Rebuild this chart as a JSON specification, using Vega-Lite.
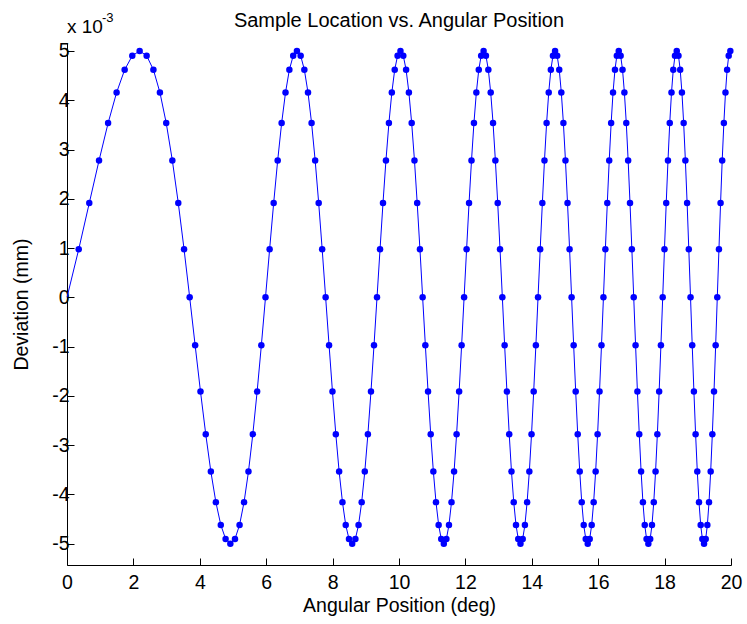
{
  "$schema": "https://vega.github.io/schema/vega-lite/v6.json",
  "width": 664,
  "height": 522,
  "autosize": {"type": "none"},
  "padding": {"left": 67, "top": 43, "right": 16, "bottom": 59},
  "background": "white",
  "config": {
    "view": {"stroke": null},
    "font": "Liberation Sans",
    "axis": {
      "grid": false,
      "domainColor": "black",
      "domainWidth": 1,
      "tickColor": "black",
      "tickWidth": 1,
      "tickSize": -7,
      "labelColor": "black",
      "titleColor": "black",
      "labelFont": "Liberation Sans",
      "titleFont": "Liberation Sans",
      "labelFontSize": 19.5,
      "titleFontSize": 19.5,
      "titleFontWeight": "normal"
    }
  },
  "title": {
    "text": "Sample Location vs. Angular Position",
    "font": "Liberation Sans",
    "fontSize": 20,
    "fontWeight": "normal",
    "color": "black",
    "frame": "group",
    "anchor": "middle",
    "baseline": "alphabetic",
    "offset": -35
  },
  "data": {
    "values": [
      {"x": 0, "y": 0},
      {"x": 0.353, "y": 0.000975},
      {"x": 0.671, "y": 0.001913},
      {"x": 0.965, "y": 0.002778},
      {"x": 1.238, "y": 0.003536},
      {"x": 1.494, "y": 0.004157},
      {"x": 1.737, "y": 0.004619},
      {"x": 1.967, "y": 0.004904},
      {"x": 2.188, "y": 0.005},
      {"x": 2.399, "y": 0.004904},
      {"x": 2.603, "y": 0.004619},
      {"x": 2.799, "y": 0.004157},
      {"x": 2.989, "y": 0.003536},
      {"x": 3.173, "y": 0.002778},
      {"x": 3.352, "y": 0.001913},
      {"x": 3.526, "y": 0.000975},
      {"x": 3.695, "y": 0},
      {"x": 3.860, "y": -0.000975},
      {"x": 4.021, "y": -0.001913},
      {"x": 4.179, "y": -0.002778},
      {"x": 4.333, "y": -0.003536},
      {"x": 4.484, "y": -0.004157},
      {"x": 4.632, "y": -0.004619},
      {"x": 4.777, "y": -0.004904},
      {"x": 4.920, "y": -0.005},
      {"x": 5.060, "y": -0.004904},
      {"x": 5.198, "y": -0.004619},
      {"x": 5.333, "y": -0.004157},
      {"x": 5.466, "y": -0.003536},
      {"x": 5.597, "y": -0.002778},
      {"x": 5.727, "y": -0.001913},
      {"x": 5.854, "y": -0.000975},
      {"x": 5.979, "y": 0},
      {"x": 6.103, "y": 0.000975},
      {"x": 6.225, "y": 0.001913},
      {"x": 6.346, "y": 0.002778},
      {"x": 6.465, "y": 0.003536},
      {"x": 6.582, "y": 0.004157},
      {"x": 6.698, "y": 0.004619},
      {"x": 6.813, "y": 0.004904},
      {"x": 6.926, "y": 0.005},
      {"x": 7.038, "y": 0.004904},
      {"x": 7.149, "y": 0.004619},
      {"x": 7.259, "y": 0.004157},
      {"x": 7.367, "y": 0.003536},
      {"x": 7.475, "y": 0.002778},
      {"x": 7.581, "y": 0.001913},
      {"x": 7.686, "y": 0.000975},
      {"x": 7.790, "y": 0},
      {"x": 7.894, "y": -0.000975},
      {"x": 7.996, "y": -0.001913},
      {"x": 8.097, "y": -0.002778},
      {"x": 8.197, "y": -0.003536},
      {"x": 8.297, "y": -0.004157},
      {"x": 8.395, "y": -0.004619},
      {"x": 8.493, "y": -0.004904},
      {"x": 8.590, "y": -0.005},
      {"x": 8.686, "y": -0.004904},
      {"x": 8.782, "y": -0.004619},
      {"x": 8.876, "y": -0.004157},
      {"x": 8.970, "y": -0.003536},
      {"x": 9.063, "y": -0.002778},
      {"x": 9.156, "y": -0.001913},
      {"x": 9.247, "y": -0.000975},
      {"x": 9.338, "y": 0},
      {"x": 9.429, "y": 0.000975},
      {"x": 9.518, "y": 0.001913},
      {"x": 9.607, "y": 0.002778},
      {"x": 9.696, "y": 0.003536},
      {"x": 9.784, "y": 0.004157},
      {"x": 9.871, "y": 0.004619},
      {"x": 9.957, "y": 0.004904},
      {"x": 10.044, "y": 0.005},
      {"x": 10.129, "y": 0.004904},
      {"x": 10.214, "y": 0.004619},
      {"x": 10.298, "y": 0.004157},
      {"x": 10.382, "y": 0.003536},
      {"x": 10.466, "y": 0.002778},
      {"x": 10.548, "y": 0.001913},
      {"x": 10.631, "y": 0.000975},
      {"x": 10.712, "y": 0},
      {"x": 10.794, "y": -0.000975},
      {"x": 10.875, "y": -0.001913},
      {"x": 10.955, "y": -0.002778},
      {"x": 11.035, "y": -0.003536},
      {"x": 11.114, "y": -0.004157},
      {"x": 11.194, "y": -0.004619},
      {"x": 11.272, "y": -0.004904},
      {"x": 11.350, "y": -0.005},
      {"x": 11.428, "y": -0.004904},
      {"x": 11.505, "y": -0.004619},
      {"x": 11.582, "y": -0.004157},
      {"x": 11.659, "y": -0.003536},
      {"x": 11.735, "y": -0.002778},
      {"x": 11.811, "y": -0.001913},
      {"x": 11.886, "y": -0.000975},
      {"x": 11.961, "y": 0},
      {"x": 12.036, "y": 0.000975},
      {"x": 12.110, "y": 0.001913},
      {"x": 12.184, "y": 0.002778},
      {"x": 12.257, "y": 0.003536},
      {"x": 12.330, "y": 0.004157},
      {"x": 12.403, "y": 0.004619},
      {"x": 12.475, "y": 0.004904},
      {"x": 12.548, "y": 0.005},
      {"x": 12.619, "y": 0.004904},
      {"x": 12.691, "y": 0.004619},
      {"x": 12.762, "y": 0.004157},
      {"x": 12.833, "y": 0.003536},
      {"x": 12.903, "y": 0.002778},
      {"x": 12.973, "y": 0.001913},
      {"x": 13.043, "y": 0.000975},
      {"x": 13.113, "y": 0},
      {"x": 13.182, "y": -0.000975},
      {"x": 13.251, "y": -0.001913},
      {"x": 13.320, "y": -0.002778},
      {"x": 13.388, "y": -0.003536},
      {"x": 13.456, "y": -0.004157},
      {"x": 13.524, "y": -0.004619},
      {"x": 13.592, "y": -0.004904},
      {"x": 13.659, "y": -0.005},
      {"x": 13.726, "y": -0.004904},
      {"x": 13.793, "y": -0.004619},
      {"x": 13.859, "y": -0.004157},
      {"x": 13.926, "y": -0.003536},
      {"x": 13.992, "y": -0.002778},
      {"x": 14.057, "y": -0.001913},
      {"x": 14.123, "y": -0.000975},
      {"x": 14.188, "y": 0},
      {"x": 14.253, "y": 0.000975},
      {"x": 14.318, "y": 0.001913},
      {"x": 14.382, "y": 0.002778},
      {"x": 14.446, "y": 0.003536},
      {"x": 14.510, "y": 0.004157},
      {"x": 14.574, "y": 0.004619},
      {"x": 14.638, "y": 0.004904},
      {"x": 14.701, "y": 0.005},
      {"x": 14.764, "y": 0.004904},
      {"x": 14.827, "y": 0.004619},
      {"x": 14.889, "y": 0.004157},
      {"x": 14.952, "y": 0.003536},
      {"x": 15.014, "y": 0.002778},
      {"x": 15.076, "y": 0.001913},
      {"x": 15.138, "y": 0.000975},
      {"x": 15.199, "y": 0},
      {"x": 15.261, "y": -0.000975},
      {"x": 15.322, "y": -0.001913},
      {"x": 15.383, "y": -0.002778},
      {"x": 15.444, "y": -0.003536},
      {"x": 15.504, "y": -0.004157},
      {"x": 15.564, "y": -0.004619},
      {"x": 15.625, "y": -0.004904},
      {"x": 15.685, "y": -0.005},
      {"x": 15.744, "y": -0.004904},
      {"x": 15.804, "y": -0.004619},
      {"x": 15.863, "y": -0.004157},
      {"x": 15.923, "y": -0.003536},
      {"x": 15.982, "y": -0.002778},
      {"x": 16.040, "y": -0.001913},
      {"x": 16.099, "y": -0.000975},
      {"x": 16.158, "y": 0},
      {"x": 16.216, "y": 0.000975},
      {"x": 16.274, "y": 0.001913},
      {"x": 16.332, "y": 0.002778},
      {"x": 16.390, "y": 0.003536},
      {"x": 16.447, "y": 0.004157},
      {"x": 16.505, "y": 0.004619},
      {"x": 16.562, "y": 0.004904},
      {"x": 16.619, "y": 0.005},
      {"x": 16.676, "y": 0.004904},
      {"x": 16.733, "y": 0.004619},
      {"x": 16.789, "y": 0.004157},
      {"x": 16.846, "y": 0.003536},
      {"x": 16.902, "y": 0.002778},
      {"x": 16.958, "y": 0.001913},
      {"x": 17.014, "y": 0.000975},
      {"x": 17.070, "y": 0},
      {"x": 17.126, "y": -0.000975},
      {"x": 17.181, "y": -0.001913},
      {"x": 17.237, "y": -0.002778},
      {"x": 17.292, "y": -0.003536},
      {"x": 17.347, "y": -0.004157},
      {"x": 17.402, "y": -0.004619},
      {"x": 17.457, "y": -0.004904},
      {"x": 17.511, "y": -0.005},
      {"x": 17.566, "y": -0.004904},
      {"x": 17.620, "y": -0.004619},
      {"x": 17.674, "y": -0.004157},
      {"x": 17.728, "y": -0.003536},
      {"x": 17.782, "y": -0.002778},
      {"x": 17.836, "y": -0.001913},
      {"x": 17.889, "y": -0.000975},
      {"x": 17.943, "y": 0},
      {"x": 17.996, "y": 0.000975},
      {"x": 18.049, "y": 0.001913},
      {"x": 18.102, "y": 0.002778},
      {"x": 18.155, "y": 0.003536},
      {"x": 18.208, "y": 0.004157},
      {"x": 18.261, "y": 0.004619},
      {"x": 18.313, "y": 0.004904},
      {"x": 18.366, "y": 0.005},
      {"x": 18.418, "y": 0.004904},
      {"x": 18.470, "y": 0.004619},
      {"x": 18.522, "y": 0.004157},
      {"x": 18.574, "y": 0.003536},
      {"x": 18.626, "y": 0.002778},
      {"x": 18.678, "y": 0.001913},
      {"x": 18.729, "y": 0.000975},
      {"x": 18.781, "y": 0},
      {"x": 18.832, "y": -0.000975},
      {"x": 18.883, "y": -0.001913},
      {"x": 18.934, "y": -0.002778},
      {"x": 18.985, "y": -0.003536},
      {"x": 19.036, "y": -0.004157},
      {"x": 19.087, "y": -0.004619},
      {"x": 19.137, "y": -0.004904},
      {"x": 19.188, "y": -0.005},
      {"x": 19.238, "y": -0.004904},
      {"x": 19.288, "y": -0.004619},
      {"x": 19.338, "y": -0.004157},
      {"x": 19.388, "y": -0.003536},
      {"x": 19.438, "y": -0.002778},
      {"x": 19.488, "y": -0.001913},
      {"x": 19.538, "y": -0.000975},
      {"x": 19.587, "y": 0},
      {"x": 19.637, "y": 0.000975},
      {"x": 19.686, "y": 0.001913},
      {"x": 19.735, "y": 0.002778},
      {"x": 19.785, "y": 0.003536},
      {"x": 19.834, "y": 0.004157},
      {"x": 19.883, "y": 0.004619},
      {"x": 19.931, "y": 0.004904},
      {"x": 19.980, "y": 0.005}
    ]
  },
  "layer": [
    {
      "mark": {"type": "line", "color": "#0000ff", "strokeWidth": 1},
      "encoding": {
        "x": {
          "field": "x",
          "type": "quantitative",
          "scale": {"domain": [0, 20], "nice": false, "zero": false},
          "axis": {
            "title": "Angular Position (deg)",
            "values": [0, 2, 4, 6, 8, 10, 12, 14, 16, 18, 20],
            "format": "d",
            "labelFlush": false,
            "labelPadding": 15,
            "titlePadding": 5
          }
        },
        "y": {
          "field": "y",
          "type": "quantitative",
          "scale": {"domain": [-0.005433, 0.005162], "nice": false, "zero": false},
          "axis": {
            "title": "Deviation (mm)",
            "values": [-0.005, -0.004, -0.003, -0.002, -0.001, 0, 0.001, 0.002, 0.003, 0.004, 0.005],
            "labelExpr": "'' + round(datum.value * 1000)",
            "labelPadding": 5,
            "titlePadding": 20
          }
        }
      }
    },
    {
      "transform": [{"filter": "datum.x > 0"}],
      "mark": {"type": "circle", "color": "#0000ff", "size": 42, "opacity": 1},
      "encoding": {
        "x": {"field": "x", "type": "quantitative"},
        "y": {"field": "y", "type": "quantitative"}
      }
    },
    {
      "data": {"values": [{"label": "x 10"}]},
      "mark": {"type": "text", "align": "left", "baseline": "alphabetic", "fontSize": 19, "font": "Liberation Sans", "color": "black"},
      "encoding": {
        "x": {"datum": 0},
        "y": {"datum": 0.005375},
        "text": {"field": "label"}
      }
    },
    {
      "data": {"values": [{"label": "-3"}]},
      "mark": {"type": "text", "align": "left", "baseline": "alphabetic", "fontSize": 13, "font": "Liberation Sans", "color": "black", "dx": 35, "dy": -10.8},
      "encoding": {
        "x": {"datum": 0},
        "y": {"datum": 0.005375},
        "text": {"field": "label"}
      }
    }
  ]
}
